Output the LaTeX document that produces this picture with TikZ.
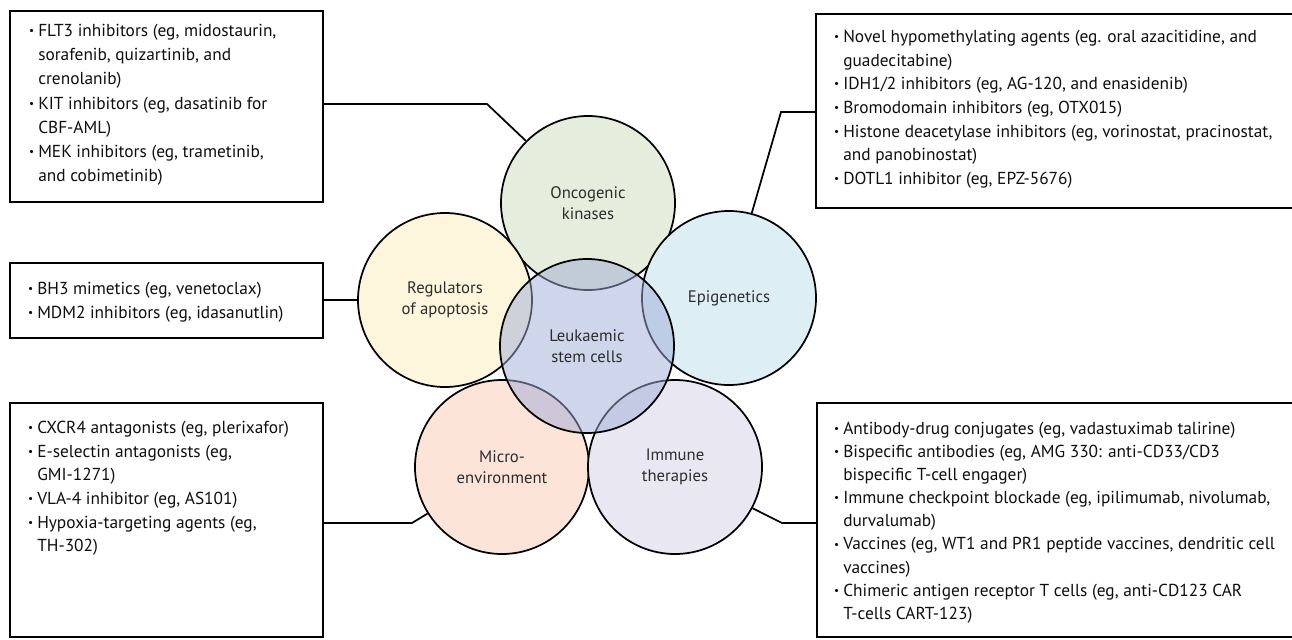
\documentclass[tikz,border=0pt]{standalone}
\usepackage{fontspec}
\setmainfont{PT Sans}[Numbers=OldStyle]
\definecolor{cGreen}{RGB}{229,237,220}
\definecolor{cYellow}{RGB}{253,246,221}
\definecolor{cBlue}{RGB}{221,239,245}
\definecolor{cPeach}{RGB}{252,228,216}
\definecolor{cLav}{RGB}{233,231,242}
\definecolor{cCentre}{RGB}{160,172,216}
\definecolor{cText}{RGB}{15,15,15}
\definecolor{cLabel}{RGB}{45,45,45}
\newcommand{\bl}{\llap{\raisebox{0.22ex}{\scalebox{0.65}{\textbullet}}\hspace{3pt}}}
\begin{document}
\begin{tikzpicture}[x=0.75pt,y=-0.75pt,
  box/.style={draw, rectangle, line width=1.3pt, inner sep=0pt},
  txt/.style={anchor=north west, inner sep=0pt, align=left, text=cText},
  circ/.style={circle, draw, line width=1.3pt, minimum size=130.5pt, inner sep=0pt,
    align=center, text=cLabel, font=\fontsize{12.5}{16}\selectfont},
  link/.style={line width=1.3pt}]
\clip (0,0) rectangle (1292,639);
\fill[white] (0,0) rectangle (1292,639);
% boxes
\node[box, minimum width=234.75pt, minimum height=143.25pt] (tl) at (166.5,106.5) {};
\node[box, minimum width=234.75pt, minimum height=56.25pt] (ml) at (166.5,300.5) {};
\node[box, minimum width=234.75pt, minimum height=175.5pt] (bl) at (166.5,520) {};
\node[box, minimum width=363pt, minimum height=145.5pt] (tr) at (1058,111) {};
\node[box, minimum width=362.25pt, minimum height=175.5pt] (br) at (1058.5,520) {};
% box texts
\node[txt, font=\fontsize{13}{18.1}\selectfont] (tlt) at (38,24) {\bl FLT3 inhibitors (eg, midostaurin,\\sorafenib, quizartinib, and\\crenolanib)\\\bl KIT inhibitors (eg, dasatinib for\\CBF-AML)\\\bl MEK inhibitors (eg, trametinib,\\and cobimetinib)};
\node[txt, font=\fontsize{13}{18}\selectfont] (mlt) at (37,282) {\bl BH3 mimetics (eg, venetoclax)\\\bl MDM2 inhibitors (eg, idasanutlin)};
\node[txt, font=\fontsize{13}{17.7}\selectfont] (blt) at (37,421) {\bl CXCR4 antagonists (eg, plerixafor)\\\bl E-selectin antagonists (eg,\\GMI-1271)\\\bl VLA-4 inhibitor (eg, AS101)\\\bl Hypoxia-targeting agents (eg,\\TH-302)};
\node[txt, font=\fontsize{13}{17.7}\selectfont] (trt) at (843,30) {\bl Novel hypomethylating agents (eg. oral azacitidine, and\\guadecitabine)\\\bl IDH1/2 inhibitors (eg, AG-120, and enasidenib)\\\bl Bromodomain inhibitors (eg, OTX015)\\\bl Histone deacetylase inhibitors (eg, vorinostat, pracinostat,\\and panobinostat)\\\bl DOTL1 inhibitor (eg, EPZ-5676)};
\node[txt, font=\fontsize{13}{17.3}\selectfont] (brt) at (843,422) {\bl Antibody-drug conjugates (eg, vadastuximab talirine)\\\bl Bispecific antibodies (eg, AMG 330: anti-CD33/CD3\\bispecific T-cell engager)\\\bl Immune checkpoint blockade (eg, ipilimumab, nivolumab,\\durvalumab)\\\bl Vaccines (eg, WT1 and PR1 peptide vaccines, dendritic cell\\vaccines)\\\bl Chimeric antigen receptor T cells (eg, anti-CD123 CAR\\T-cells CART-123)};
% circles
\node[circ, fill=cGreen] (onc) at (588,203) {Oncogenic\\kinases};
\node[circ, fill=cYellow] (reg) at (445,300) {Regulators\\of apoptosis};
\node[circ, fill=cBlue] (epi) at (729,298) {Epigenetics};
\node[circ, fill=cPeach] (mic) at (502,467) {Micro-\\environment};
\node[circ, fill=cLav] (imm) at (675,467) {Immune\\therapies};
\node[circ, fill=cCentre, fill opacity=0.5, text opacity=1] (lsc) at (587,346) {Leukaemic\\stem cells};
% connectors
\coordinate (e1) at (487,104);
\coordinate (e2) at (781,112);
\coordinate (e3) at (412,523);
\coordinate (e4) at (782,523);
\draw[link] (tl.east |- e1) -- (e1) -- (onc.135);
\draw[link] (ml.east |- reg.west) -- (reg.west);
\draw[link] (tr.west |- e2) -- (e2) -- (epi.75);
\draw[link] (bl.east |- e3) -- (e3) -- (mic.212);
\draw[link] (br.west |- e4) -- (e4) -- (imm.-28);
\end{tikzpicture}
\end{document}
